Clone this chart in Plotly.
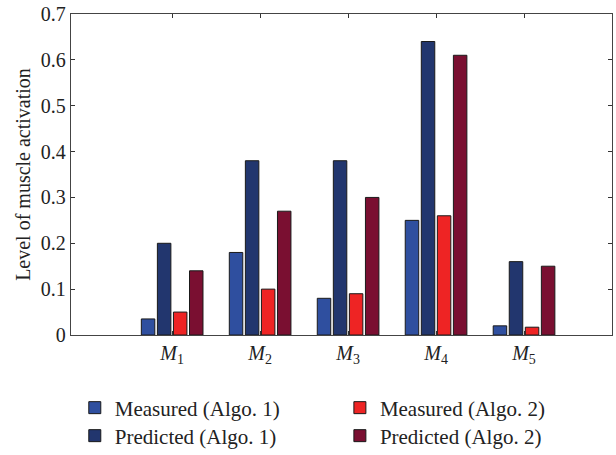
import plotly.graph_objects as go

categories = ["M1", "M2", "M3", "M4", "M5"]
tick_labels = ["<i>M</i><sub>1</sub>", "<i>M</i><sub>2</sub>", "<i>M</i><sub>3</sub>",
               "<i>M</i><sub>4</sub>", "<i>M</i><sub>5</sub>"]
measured_algo1 = [0.035, 0.18, 0.08, 0.25, 0.02]
predicted_algo1 = [0.20, 0.38, 0.38, 0.64, 0.16]
measured_algo2 = [0.05, 0.10, 0.09, 0.26, 0.017]
predicted_algo2 = [0.14, 0.27, 0.30, 0.61, 0.15]
series_names = ["Measured (Algo. 1)", "Predicted (Algo. 1)",
                "Measured (Algo. 2)", "Predicted (Algo. 2)"]
y_ticks = [0, 0.1, 0.2, 0.3, 0.4, 0.5, 0.6, 0.7]
y_tick_text = ["0", "0.1", "0.2", "0.3", "0.4", "0.5", "0.6", "0.7"]

colors = ["#2F4F9F", "#22366E", "#EE2424", "#7A0F31"]
xpos = [1, 2, 3, 4, 5]
FONT = "Liberation Serif, Times New Roman, serif"
FS = 20
H = 455

fig = go.Figure()
series = [measured_algo1, predicted_algo1, measured_algo2, predicted_algo2]
legends = ["legend", "legend3", "legend2", "legend4"]
for name, vals, col, lg in zip(series_names, series, colors, legends):
    fig.add_trace(go.Bar(
        x=xpos, y=vals, name=name, legend=lg, showlegend=True,
        marker=dict(color=col, line=dict(color="#1a1a1a", width=1)),
    ))

def leg(x, ypx):
    return dict(x=x, y=1 - ypx / H, xref="paper", yref="container",
                xanchor="left", yanchor="middle",
                font=dict(family=FONT, size=21, color="#222"),
                bgcolor="rgba(0,0,0,0)", borderwidth=0)

fig.update_layout(
    width=616, height=H,
    margin=dict(l=71, r=4, t=14, b=120),
    paper_bgcolor="white", plot_bgcolor="white",
    barmode="group", bargap=0.27, bargroupgap=0.16,
    font=dict(family=FONT, size=FS, color="#222"),
    showlegend=True,
    legend=leg(0.007, 408),
    legend2=leg(0.497, 408),
    legend3=leg(0.007, 436),
    legend4=leg(0.497, 436),
    xaxis=dict(
        range=[-0.15, 6.0], tickvals=xpos, ticktext=tick_labels,
        ticks="inside", ticklen=4, tickcolor="#333",
        showline=True, linecolor="#444", linewidth=1.3, mirror="ticks",
        showgrid=False, zeroline=False,
        tickfont=dict(family=FONT, size=FS, color="#222"),
    ),
    yaxis=dict(
        range=[0, 0.7], tickvals=y_ticks, ticktext=y_tick_text,
        ticks="inside", ticklen=4, tickcolor="#333",
        showline=True, linecolor="#444", linewidth=1.3, mirror="ticks",
        showgrid=False, zeroline=False,
        title=dict(text="Level of muscle activation", standoff=4,
                   font=dict(family=FONT, size=FS, color="#222")),
        tickfont=dict(family=FONT, size=FS, color="#222"),
    ),
)

fig.write_html("out.html", config={"displayModeBar": False},
               post_script="document.body.style.margin='0';document.body.style.padding='0';")
